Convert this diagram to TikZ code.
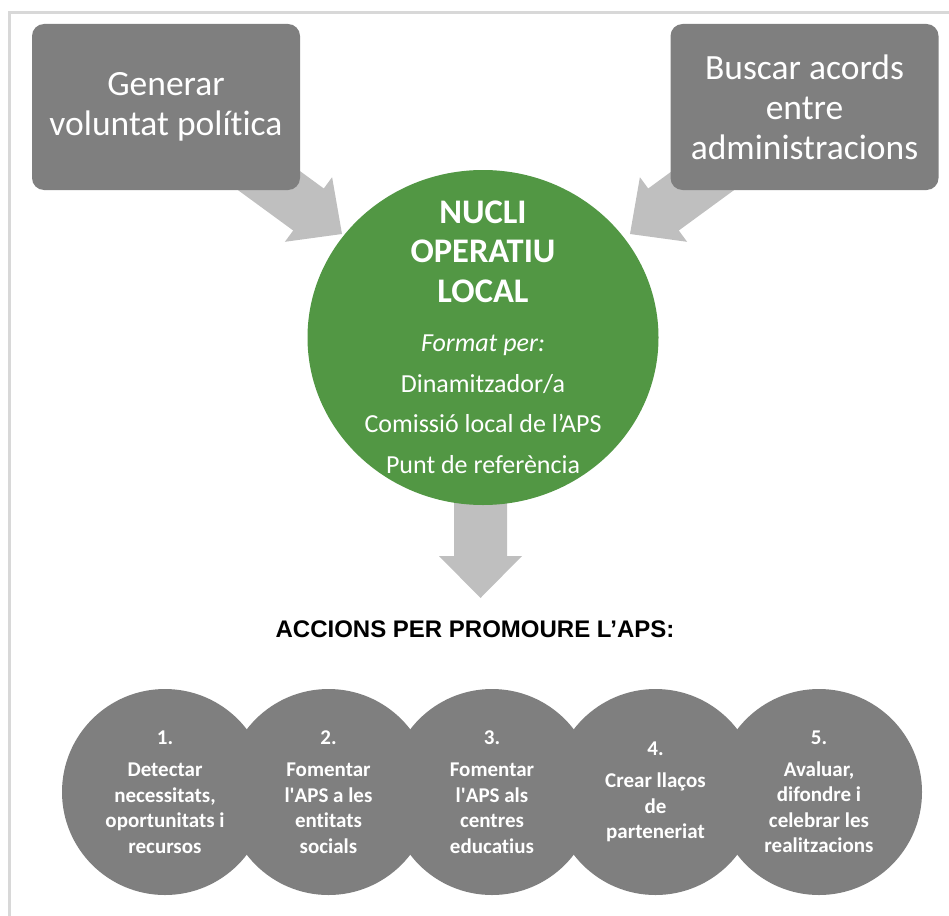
\documentclass[tikz,border=0pt]{standalone}
\usepackage{fontspec}
\setmainfont{Carlito}[RawFeature={-liga;-clig;-calt;-dlig}]
\newfontfamily\arialfont{Liberation Sans}
\usetikzlibrary{shapes.geometric}
\definecolor{boxgray}{RGB}{127,127,127}
\definecolor{arrowgray}{RGB}{191,191,191}
\definecolor{nucligreen}{RGB}{82,151,68}
\definecolor{framegray}{RGB}{216,216,216}
\newcommand{\nolig}{\kern0pt }
\begin{document}
\begin{tikzpicture}[x=1pt,y=-1pt,
  topbox/.style={fill=boxgray, rounded corners=12pt, text=white,
    font=\fontsize{35.5}{40}\selectfont, align=center, inner sep=0pt,
    minimum width=268pt, minimum height=166pt},
  blockarrow/.style={fill=arrowgray},
  nuclibig/.style={text=white, font=\fontsize{34.5}{39.5}\selectfont\bfseries, anchor=base},
  nuclismall/.style={text=white, font=\fontsize{26}{40}\selectfont, anchor=base},
  actcircle/.style={circle, fill=boxgray, minimum size=206pt, inner sep=0pt},
  acttext/.style={text=white, font=\fontsize{21}{25.5}\selectfont\bfseries, align=center, inner sep=0pt},
]
\useasboundingbox (0,0) rectangle (949,915);
\draw[framegray, line width=3pt] (9.5,960) -- (9.5,12.5) -- (960,12.5);

% block arrows (behind boxes and circle)
\fill[blockarrow] (196.4,159.7) -- (293.2,230.5) -- (284.9,241.8) -- (342,234)
  -- (332.1,177.2) -- (323.8,188.5) -- (227.0,117.7) -- cycle;
\fill[blockarrow] (775.6,159.7) -- (678.8,230.5) -- (687.1,241.8) -- (630,234)
  -- (639.9,177.2) -- (648.2,188.5) -- (745.0,117.7) -- cycle;
\fill[blockarrow] (454,480) -- (507,480) -- (507,556) -- (522,556) -- (480.5,598)
  -- (439,556) -- (454,556) -- cycle;

% top boxes
\node[topbox] (gen) at (166,107) {Generar\\voluntat polít\nolig ica};
\node[topbox] (bus) at (804.5,107) {Buscar acords\\entre\\administracions};

% central circle
\node[ellipse, fill=nucligreen, minimum width=351pt, minimum height=335pt, inner sep=0pt] (nucli) at (483,337.5) {};
\node[nuclibig] (n1) at (483,223) {NUCLI};
\node[nuclibig] (n2) at (483,262.5) {OPERATIU};
\node[nuclibig] (n3) at (483,302) {LOCAL};
\node[nuclismall] (f1) at (483,351) {\itshape Format per:};
\node[nuclismall] (f2) at (483,392.5) {Dinamitzador/a};
\node[nuclismall] (f3) at (483,432.5) {Comissió local de l’APS};
\node[nuclismall] (f4) at (483,473) {Punt de referència};

% title
\node[anchor=base, font=\arialfont\fontsize{24}{28}\selectfont\bfseries, text=black] (acc) at (475,637) {ACCIONS PER PROMOURE L’APS:};

% action circles
\node[actcircle] (c1) at (165,792) {};
\node[actcircle] (c2) at (328.5,792) {};
\node[actcircle] (c3) at (492,792) {};
\node[actcircle] (c4) at (655.5,792) {};
\node[actcircle] (c5) at (819,792) {};

\node[acttext] (t1) at (c1.center) {1.\\[6.5pt]Detectar\\necessitats,\\oportunitats i\\recursos};
\node[acttext] (t2) at (c2.center) {2.\\[6.5pt]Fomentar\\l\textquotesingle APS a les\\ent\nolig itats\\socials};
\node[acttext] (t3) at (c3.center) {3.\\[6.5pt]Fomentar\\l\textquotesingle APS als\\centres\\educat\nolig ius};
\node[acttext] (t4) at (c4.center) {4.\\[6.5pt]Crear llaços\\de\\parteneriat};
\node[acttext] (t5) at (c5.center) {5.\\[6.5pt]Avaluar,\\difondre i\\celebrar les\\realitzacions};
\end{tikzpicture}
\end{document}
